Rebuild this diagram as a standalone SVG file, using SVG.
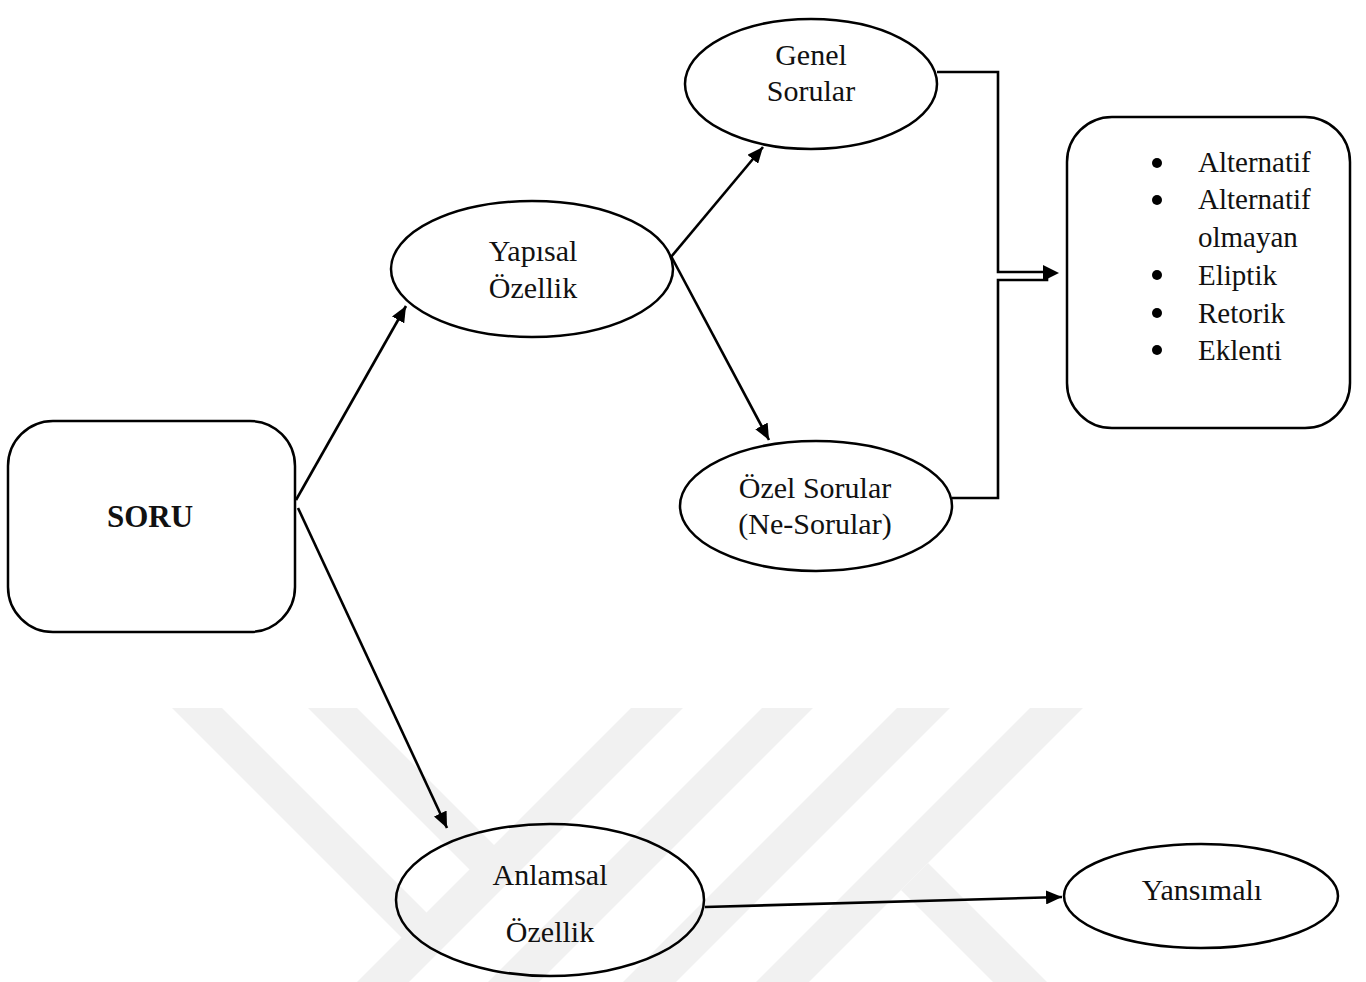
<svg xmlns="http://www.w3.org/2000/svg" width="1366" height="982" viewBox="0 0 1366 982">
<style>
.wm{fill:#f1f1f1;stroke:none}
.shape{fill:none;stroke:#000;stroke-width:2.5}
.conn{fill:none;stroke:#000;stroke-width:2.6}
.t{font-family:"Liberation Serif","Times New Roman",serif;font-size:30px;fill:#111;text-anchor:middle}
.tl{font-family:"Liberation Serif","Times New Roman",serif;font-size:29px;fill:#111}
.b{font-weight:bold;font-size:31px}
</style>
<defs>
<marker id="ah" markerUnits="userSpaceOnUse" viewBox="0 0 16 14" refX="16" refY="7" markerWidth="16" markerHeight="14" orient="auto">
<path d="M0,0 L16,7 L0,14 Z" fill="#000"/>
</marker>
</defs>
<rect width="1366" height="982" fill="#fff"/>
<g id="watermark">
<polygon class="wm" points="172,708 222,708 426.5,912.5 427.5,963.5"/>
<polygon class="wm" points="308,708 357,708 494,845 495.5,895.5"/>
<polygon class="wm" points="631,708 683,708 409,982 357,982"/>
<polygon class="wm" points="762,708 813,708 539,982 488,982"/>
<polygon class="wm" points="897,708 950,708 676,982 623,982"/>
<polygon class="wm" points="1030,708 1083,708 809,982 756,982"/>
<polygon class="wm" points="928,863 1047,982 993,982 901,890"/>
</g>
<g id="connectors">
<line class="conn" x1="296" y1="500" x2="406" y2="306" marker-end="url(#ah)"/>
<line class="conn" x1="298" y1="508" x2="447" y2="828" marker-end="url(#ah)"/>
<line class="conn" x1="671" y1="257" x2="763" y2="147" marker-end="url(#ah)"/>
<line class="conn" x1="671" y1="256" x2="769" y2="440" marker-end="url(#ah)"/>
<line class="conn" x1="705" y1="907" x2="1062" y2="897" stroke-width="3.5" marker-end="url(#ah)"/>
<path class="conn" d="M937,72 H998 V272 H1045"/>
<path class="conn" d="M952,498 H998 V280 H1047 V276"/>
<path d="M1043,265 L1059,273 L1043,281 Z" fill="#000"/>
</g>
<g id="soru">
<rect class="shape" x="8" y="421" width="287" height="211" rx="45" ry="45"/>
<text class="t b" x="150" y="527">SORU</text>
</g>
<g id="yapisal">
<ellipse class="shape" cx="532" cy="269" rx="141" ry="68"/>
<text class="t" x="533" y="261">Yapısal</text>
<text class="t" x="533" y="298">Özellik</text>
</g>
<g id="genel">
<ellipse class="shape" cx="811" cy="84" rx="126" ry="65"/>
<text class="t" x="811" y="65">Genel</text>
<text class="t" x="811" y="101">Sorular</text>
</g>
<g id="ozel">
<ellipse class="shape" cx="816" cy="506" rx="136" ry="65"/>
<text class="t" x="815" y="498">Özel Sorular</text>
<text class="t" x="815" y="534">(Ne-Sorular)</text>
</g>
<g id="tipler">
<rect class="shape" x="1067" y="117" width="283" height="311" rx="45" ry="45"/>
<circle cx="1157" cy="163" r="5" fill="#000"/>
<circle cx="1157" cy="200" r="5" fill="#000"/>
<circle cx="1157" cy="275" r="5" fill="#000"/>
<circle cx="1157" cy="313" r="5" fill="#000"/>
<circle cx="1157" cy="350" r="5" fill="#000"/>
<text class="tl" x="1198" y="172">Alternatif</text>
<text class="tl" x="1198" y="209">Alternatif</text>
<text class="tl" x="1198" y="247">olmayan</text>
<text class="tl" x="1198" y="285">Eliptik</text>
<text class="tl" x="1198" y="323">Retorik</text>
<text class="tl" x="1198" y="360">Eklenti</text>
</g>
<g id="anlamsal">
<ellipse class="shape" cx="550" cy="900" rx="154" ry="76"/>
<text class="t" x="550" y="885">Anlamsal</text>
<text class="t" x="550" y="942">Özellik</text>
</g>
<g id="yansimali">
<ellipse class="shape" cx="1201" cy="896" rx="137" ry="52"/>
<text class="t" x="1202" y="900">Yansımalı</text>
</g>
</svg>
